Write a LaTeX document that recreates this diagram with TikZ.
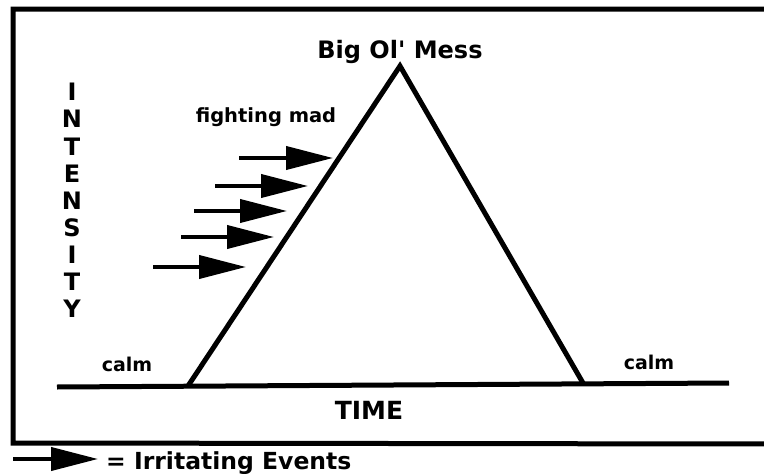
\documentclass[tikz,border=0pt]{standalone}
\usepackage{fontspec}
\setmainfont{DejaVu Sans}[Ligatures=TeXOff]
\usetikzlibrary{arrows.meta}
\tikzset{
  heavy/.style={line width=5pt, line cap=butt},
  evt/.style={line width=4pt, -{Triangle[length=47pt,width=23pt]}},
  lbl/.style={font=\bfseries\fontsize{21}{24}\selectfont, inner sep=0pt, anchor=base},
}
\begin{document}
\begin{tikzpicture}[x=1pt,y=-1pt]
\useasboundingbox (0,0) rectangle (764,474);
\fill[white] (0,0) rectangle (764,474);
% frame (right side cut off)
\draw[heavy, line join=miter] (770,9) -- (13,9) -- (13,443) -- (770,444);
% triangle and baseline
\coordinate (apex) at (400,66);
\coordinate (bl) at (188,386);
\coordinate (br) at (583,383);
\coordinate (axl) at (57,387);
\coordinate (axr) at (729,383);
\draw[heavy] (axl) -- (axr);
\draw[heavy, line join=miter] (bl) -- (apex) -- (br);
% labels
\node[lbl, font=\bfseries\fontsize{24}{26}\selectfont] (mess) at (400,58) {Big Ol' Mess};
\node[lbl, font=\bfseries\fontsize{19.5}{24}\selectfont] (mad) at (266,122) {fighting mad};
\node[lbl, font=\bfseries\fontsize{19}{24}\selectfont] (calml) at (127,371) {calm};
\node[lbl, font=\bfseries\fontsize{19}{24}\selectfont] (calmr) at (649,369) {calm};
\node[lbl, font=\bfseries\fontsize{25}{26}\selectfont] (time) at (369,419) {TIME};
\node[inner sep=0pt, font=\bfseries\fontsize{24}{27.1}\selectfont, align=center] (intensity) at (72,200.5)
  {I\\N\\T\\E\\N\\S\\I\\T\\Y};
% irritating events
\coordinate (t1) at (239,158); \coordinate (h1) at (333,158);
\coordinate (t2) at (215,186); \coordinate (h2) at (308,186);
\coordinate (t3) at (194,211); \coordinate (h3) at (287,211);
\coordinate (t4) at (181,237); \coordinate (h4) at (274,237);
\coordinate (t5) at (153,267); \coordinate (h5) at (246,267);
\draw[evt] (t1) -- (h1);
\draw[evt] (t2) -- (h2);
\draw[evt] (t3) -- (h3);
\draw[evt] (t4) -- (h4);
\draw[evt] (t5) -- (h5);
% legend
\coordinate (lt) at (13,459); \coordinate (lh) at (98,459);
\draw[evt] (lt) -- (lh);
\node[lbl, font=\bfseries\fontsize{23.5}{28}\selectfont, anchor=base west] (legend) at (106,469) {= Irritating Events};
\end{tikzpicture}
\end{document}
